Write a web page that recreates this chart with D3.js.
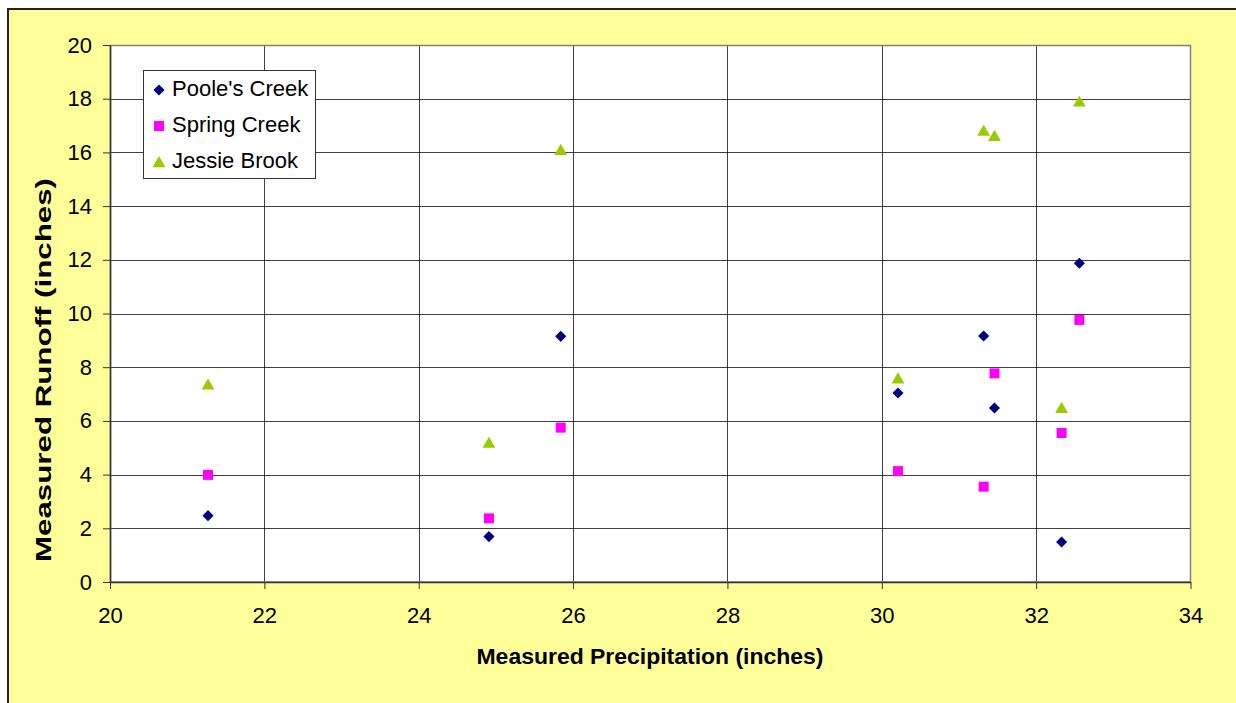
<!DOCTYPE html>
<html>
<head>
<meta charset="utf-8">
<script src="https://cdn.jsdelivr.net/npm/d3@7"></script>
<style>
  html, body { margin: 0; padding: 0; background: #fff; }
  svg { display: block; font-family: "Liberation Sans", Arial, sans-serif; }
</style>
</head>
<body>
<svg id="chart" width="1236" height="703"></svg>
<script>
// Annual precipitation vs. runoff for three gauged streams
const precipitation = [21.27, 24.91, 25.84, 30.21, 31.32, 31.46, 32.33, 32.56];
const poolesCreek  = [2.47, 1.69, 9.15, 7.04, 9.16, 6.48, 1.49, 11.87];
const springCreek  = [3.99, 2.37, 5.75, 4.13, 3.55, 7.77, 5.55, 9.76];
const jessieBrook  = [7.36, 5.19, 16.10, 7.59, 16.81, 16.62, 6.49, 17.90];
const seriesNames  = ["Poole's Creek", "Spring Creek", "Jessie Brook"];
const xTicks = [20, 22, 24, 26, 28, 30, 32, 34];
const yTicks = [0, 2, 4, 6, 8, 10, 12, 14, 16, 18, 20];

// diamond = square turned 45 degrees; triangle nudged so its box is centred on the point
const series = [
  { name: seriesNames[0], values: poolesCreek, color: "#000080", shape: d3.symbolSquare, size: 62, rotate: 45, dy: 0 },
  { name: seriesNames[1], values: springCreek, color: "#FF00FF", shape: d3.symbolSquare, size: 100, rotate: 0, dy: 0 },
  { name: seriesNames[2], values: jessieBrook, color: "#99CC00", shape: d3.symbolTriangle, size: 72, rotate: 0, dy: 1.5 }
];

const svg = d3.select("#chart");
const plot = { left: 110, right: 1190.5, top: 45, bottom: 582 };

// chart background and frame
svg.append("rect").attr("x", 0).attr("y", 0).attr("width", 1236).attr("height", 703).attr("fill", "#fff");
svg.append("rect").attr("x", 8).attr("y", 9).attr("width", 1240).attr("height", 700)
  .attr("fill", "#FFFF99").attr("stroke", "#222").attr("stroke-width", 2);

const x = d3.scaleLinear().domain([20, 34]).range([plot.left, plot.right]);
const y = d3.scaleLinear().domain([0, 20]).range([plot.bottom, plot.top]);

// plot area
svg.append("rect")
  .attr("x", plot.left).attr("y", plot.top)
  .attr("width", plot.right - plot.left).attr("height", plot.bottom - plot.top)
  .attr("fill", "#fff");

// gridlines
const grid = svg.append("g");
grid.selectAll("line.h").data(yTicks.slice(1, -1)).join("line")
  .attr("x1", plot.left).attr("x2", plot.right)
  .attr("y1", d => Math.round(y(d)) + 0.5).attr("y2", d => Math.round(y(d)) + 0.5)
  .attr("stroke", "#000").attr("stroke-width", 1).attr("stroke-opacity", 0.75);
grid.selectAll("line.v").data(xTicks.slice(1, -1)).join("line")
  .attr("y1", plot.top).attr("y2", plot.bottom)
  .attr("x1", d => Math.round(x(d)) + 0.5).attr("x2", d => Math.round(x(d)) + 0.5)
  .attr("stroke", "#000").attr("stroke-width", 1).attr("stroke-opacity", 0.75);

// plot border
svg.append("rect")
  .attr("x", plot.left + 0.5).attr("y", plot.top + 0.5)
  .attr("width", plot.right - plot.left - 0.5).attr("height", plot.bottom - plot.top - 0.5)
  .attr("fill", "none").attr("stroke", "#808080").attr("stroke-width", 1.5);

// axes
const yAxis = d3.axisLeft(y).tickValues(yTicks).tickSize(7).tickPadding(11).tickSizeOuter(0);
const xAxis = d3.axisBottom(x).tickValues(xTicks).tickSize(7).tickPadding(18).tickSizeOuter(0);

const gy = svg.append("g").attr("transform", `translate(${plot.left},0)`).call(yAxis);
const gx = svg.append("g").attr("transform", `translate(0,${plot.bottom})`).call(xAxis);
[gx, gy].forEach(g => {
  g.attr("font-family", "'Liberation Sans', Arial, sans-serif").attr("font-size", 22);
  g.select(".domain").attr("stroke", "#333").attr("stroke-width", 1.5);
  g.selectAll(".tick line").attr("stroke", "#333").attr("stroke-width", 1);
  g.selectAll(".tick text").attr("fill", "#000");
});

// axis titles
svg.append("text")
  .attr("x", 650).attr("y", 664)
  .attr("text-anchor", "middle")
  .attr("font-size", 22).attr("font-weight", "bold")
  .attr("textLength", 347).attr("lengthAdjust", "spacingAndGlyphs")
  .text("Measured Precipitation (inches)");

svg.append("text")
  .attr("transform", "translate(51,370) rotate(-90)")
  .attr("text-anchor", "middle")
  .attr("font-size", 22).attr("font-weight", "bold")
  .attr("textLength", 384).attr("lengthAdjust", "spacingAndGlyphs")
  .text("Measured Runoff (inches)");

// markers
const symbol = d3.symbol();
series.forEach(s => {
  svg.append("g").selectAll("path").data(s.values).join("path")
    .attr("transform", (v, i) => `translate(${x(precipitation[i])},${y(v) + s.dy}) rotate(${s.rotate})`)
    .attr("d", symbol.type(s.shape).size(s.size)())
    .attr("fill", s.color);
});

// legend
const legend = svg.append("g");
legend.append("rect")
  .attr("x", 143.5).attr("y", 70.5).attr("width", 172).attr("height", 108)
  .attr("fill", "#fff").attr("stroke", "#333").attr("stroke-width", 1);
const rowY = [88, 124, 160];
series.forEach((s, i) => {
  legend.append("path")
    .attr("transform", `translate(159,${rowY[i] + 2 + s.dy}) rotate(${s.rotate})`)
    .attr("d", symbol.type(s.shape).size(s.size)())
    .attr("fill", s.color);
  legend.append("text")
    .attr("x", 172).attr("y", rowY[i] + 8)
    .attr("font-size", 22)
    .text(s.name);
});
</script>
</body>
</html>
